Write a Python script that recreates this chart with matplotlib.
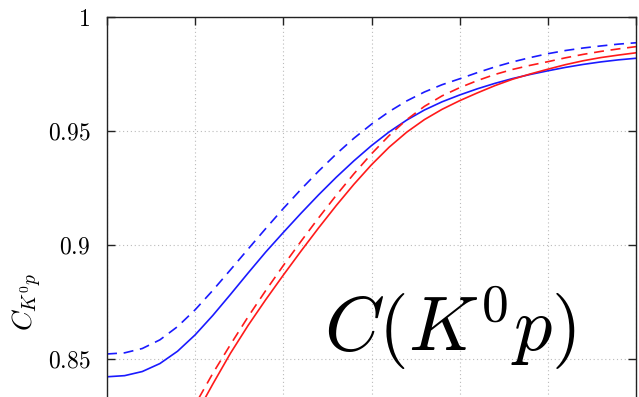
import matplotlib
matplotlib.use("Agg")
import matplotlib.pyplot as plt

plt.rcParams['mathtext.fontset'] = 'cm'
plt.rcParams['font.family'] = ['DejaVu Serif']

# k* (arbitrary units, grid every 50)
x_blue = [0, 10, 20, 30, 40, 50, 60, 70, 80, 90, 100, 110, 120, 130, 140, 150,
          160, 170, 180, 190, 200, 210, 220, 230, 240, 250, 260, 270, 280, 290, 300]
y_blue_solid = [0.8422, 0.8427, 0.8445, 0.8480, 0.8534, 0.8606, 0.8691, 0.8783, 0.8877, 0.8969,
                0.9055, 0.9139, 0.9220, 0.9297, 0.9369, 0.9436, 0.9496, 0.9548, 0.9592, 0.9628,
                0.9658, 0.9685, 0.9709, 0.9730, 0.9748, 0.9764, 0.9779, 0.9792, 0.9803, 0.9812, 0.9819]
y_blue_dash = [0.8522, 0.8527, 0.8546, 0.8584, 0.8642, 0.8716, 0.8801, 0.8891, 0.8982, 0.9072,
               0.9160, 0.9244, 0.9324, 0.9399, 0.9468, 0.9530, 0.9585, 0.9632, 0.9671, 0.9703,
               0.9729, 0.9756, 0.9781, 0.9803, 0.9822, 0.9839, 0.9853, 0.9864, 0.9873, 0.9881, 0.9887]

x_red = [40, 50, 60, 70, 80, 90, 100, 110, 120, 130, 140, 150,
         160, 170, 180, 190, 200, 210, 220, 230, 240, 250, 260, 270, 280, 290, 300]
y_red_solid = [0.8105, 0.8250, 0.8390, 0.8525, 0.8647, 0.8760, 0.8868, 0.8973, 0.9075, 0.9173,
               0.9266, 0.9352, 0.9429, 0.9495, 0.9550, 0.9595, 0.9633, 0.9667, 0.9699, 0.9727,
               0.9750, 0.9771, 0.9791, 0.9808, 0.9822, 0.9833, 0.9843]
y_red_dash = [0.8160, 0.8300, 0.8437, 0.8563, 0.8685, 0.8800, 0.8910, 0.9016, 0.9119, 0.9218,
              0.9312, 0.9400, 0.9480, 0.9550, 0.9608, 0.9654, 0.9690, 0.9721, 0.9748, 0.9770,
              0.9788, 0.9804, 0.9821, 0.9836, 0.9849, 0.9860, 0.9870]

y_ticks = [0.85, 0.9, 0.95, 1.0]
y_tick_labels = ['$0.85$', '$0.9$', '$0.95$', '$1$']
x_ticks = [0, 50, 100, 150, 200, 250, 300]

W, H = 639, 397
fig = plt.figure(figsize=(W / 100, H / 100), dpi=100)

left = 107 / W
width = (636 - 107) / W
ylim = (0.80, 1.0)
top_px = 17
px_per_unit = 114 / 0.05
h_px = (ylim[1] - ylim[0]) * px_per_unit
bottom = (H - top_px - h_px) / H
ax = fig.add_axes([left, bottom, width, h_px / H])

blue = '#1a1aff'
red = '#ff1a1a'
lw = 1.2
ax.plot(x_blue, y_blue_solid, color=blue, lw=lw)
ax.plot(x_blue, y_blue_dash, color=blue, lw=lw, dashes=(6, 4))
ax.plot(x_red, y_red_solid, color=red, lw=lw)
ax.plot(x_red, y_red_dash, color=red, lw=lw, dashes=(6, 4))

ax.set_xlim(0, 300)
ax.set_ylim(*ylim)
ax.set_xticks(x_ticks)
ax.set_xticklabels([])
ax.set_yticks(y_ticks)
ax.set_yticklabels(y_tick_labels, fontsize=17)
ax.tick_params(direction='in', length=6, width=1, top=True, right=True, pad=12, colors='#222222')
ax.tick_params(axis='y', labelcolor='black')
for s in ax.spines.values():
    s.set_linewidth(1.0)
    s.set_color('#222222')
ax.grid(True, linestyle=(0, (1, 2.5)), color='#bbbbbb', lw=0.8)

fig.text(27 / W, 1 - 302 / H, r'$C_{K^0p}$', rotation=90, ha='center', va='center', fontsize=20)
fig.text(450 / W, 1 - 328 / H, r'$C(K^0p)$', ha='center', va='center', fontsize=55)

fig.savefig('out.png', dpi=100)
